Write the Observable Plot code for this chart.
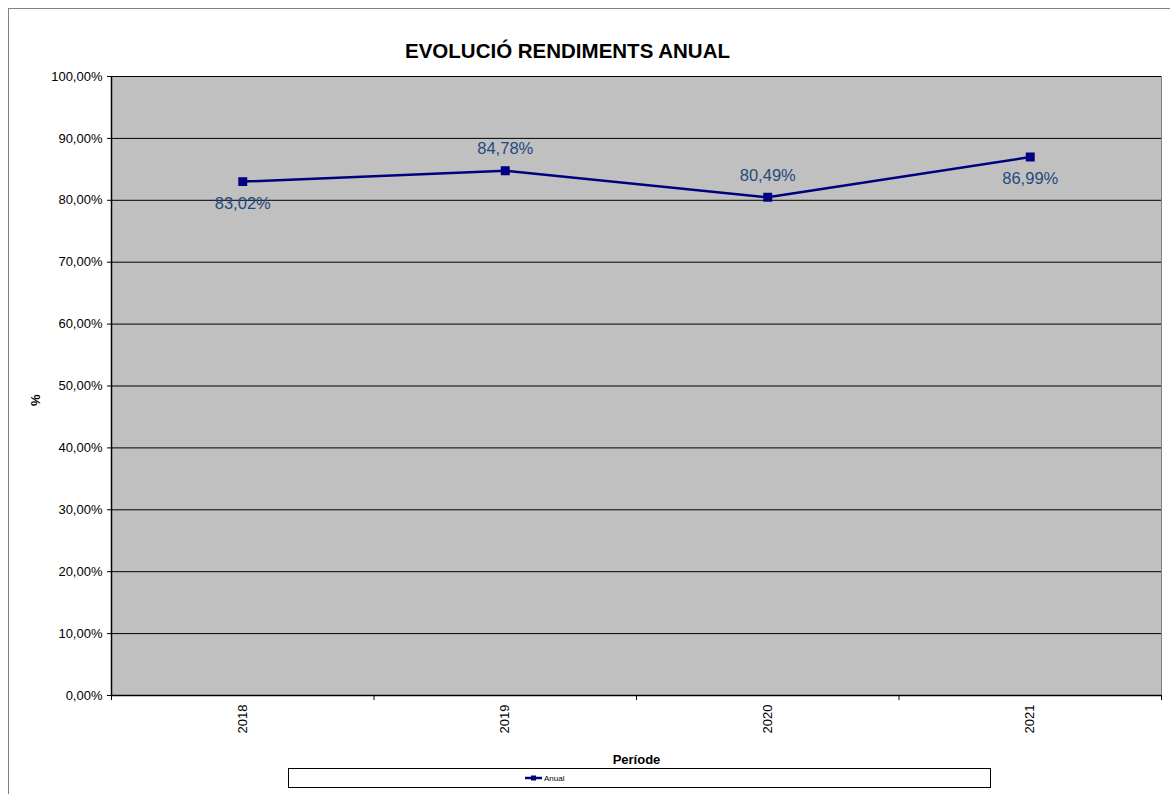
<!DOCTYPE html>
<html>
<head>
<meta charset="utf-8">
<script src="https://cdn.jsdelivr.net/npm/d3@7"></script>
<script src="https://cdn.jsdelivr.net/npm/@observablehq/plot@0.6"></script>
<style>
  html, body { margin: 0; padding: 0; background: #fff; overflow: hidden; }
  #wrap { position: relative; width: 1170px; height: 794px; font-family: "Liberation Sans", Arial, sans-serif; }
  #border { position: absolute; left: 8px; top: 8px; width: 1200px; height: 820px; border: 1px solid #808080; box-sizing: border-box; pointer-events: none; }
  #legend { position: absolute; left: 288px; top: 768px; width: 703px; height: 20px; border: 1px solid #000; box-sizing: border-box; background: #fff; display: flex; align-items: center; justify-content: flex-start; padding-left: 236px; font-size: 8px; color: #000; }
  #legend svg { margin-right: 2px; }
</style>
</head>
<body>
<div id="wrap">
  <div id="chart"></div>
  <div id="border"></div>
  <div id="legend"></div>
</div>
<script>
const title = "EVOLUCIÓ RENDIMENTS ANUAL";
const years = [2018, 2019, 2020, 2021];
const values = [0.8302, 0.8478, 0.8049, 0.8699];
const yTicks = [0, 0.1, 0.2, 0.3, 0.4, 0.5, 0.6, 0.7, 0.8, 0.9, 1.0];
const xLabel = "Període";
const yLabel = "%";
const seriesName = "Anual";
const labelsBelow = [2018, 2021];

const data = years.map((year, i) => ({year, value: values[i]}));
const boundaries = [...years.map(y => y - 0.5), years[years.length - 1] + 0.5];
const fmt = d => (d * 100).toFixed(2).replace(".", ",") + "%";

const lineColor = "#000080";
const labelColor = "#1f4a7c";

const chart = Plot.plot({
  width: 1170,
  height: 794,
  marginLeft: 111,
  marginRight: 9,
  marginTop: 76,
  marginBottom: 99,
  style: { fontFamily: "'Liberation Sans', Arial, sans-serif", background: "transparent", color: "#000" },
  x: { type: "linear", domain: [boundaries[0], boundaries[boundaries.length - 1]] },
  y: { domain: [0, 1] },
  marks: [
    Plot.frame({ fill: "#c0c0c0", stroke: "#808080" }),
    Plot.ruleY(yTicks, { stroke: "#000", strokeWidth: 1 }),
    Plot.ruleX([boundaries[0]], { stroke: "#000", strokeWidth: 1.5 }),
    Plot.ruleY([0], { stroke: "#000", strokeWidth: 1.5 }),
    Plot.axisY(yTicks, { tickSize: 4, tickPadding: 5, tickFormat: fmt, fontSize: 13, label: null }),
    Plot.axisX(boundaries, { tickSize: 5, tickFormat: () => "", label: null }),
    Plot.axisX(years, { tickSize: 0, tickPadding: 9, tickRotate: -90, tickFormat: d => String(d), fontSize: 13, label: null }),
    Plot.line(data, { x: "year", y: "value", stroke: lineColor, strokeWidth: 2.5 }),
    Plot.dot(data, { x: "year", y: "value", symbol: "square", r: 4.2, fill: lineColor, stroke: lineColor }),
    Plot.text(data.filter(d => !labelsBelow.includes(d.year)), { x: "year", y: "value", text: d => fmt(d.value), dy: -22, fill: labelColor, fontSize: 16.5 }),
    Plot.text(data.filter(d => labelsBelow.includes(d.year)), { x: "year", y: "value", text: d => fmt(d.value), dy: 22, fill: labelColor, fontSize: 16.5 }),
    Plot.text([title], { frameAnchor: "top", text: d => d, dx: -69, dy: -33, fontSize: 20.5, fontWeight: "bold" }),
    Plot.text([xLabel], { frameAnchor: "bottom", text: d => d, dy: 68, fontSize: 13, fontWeight: "bold" }),
    Plot.text([yLabel], { frameAnchor: "left", text: d => d, dx: -76, dy: 20, rotate: -90, fontSize: 13, fontWeight: "bold" })
  ]
});
document.getElementById("chart").appendChild(chart);

const legend = document.getElementById("legend");
legend.innerHTML = `<svg width="17" height="8"><line x1="0" y1="4" x2="17" y2="4" stroke="${lineColor}" stroke-width="2.5"/><rect x="6" y="1.5" width="5" height="5" fill="${lineColor}"/></svg><span>${seriesName}</span>`;
</script>
</body>
</html>
